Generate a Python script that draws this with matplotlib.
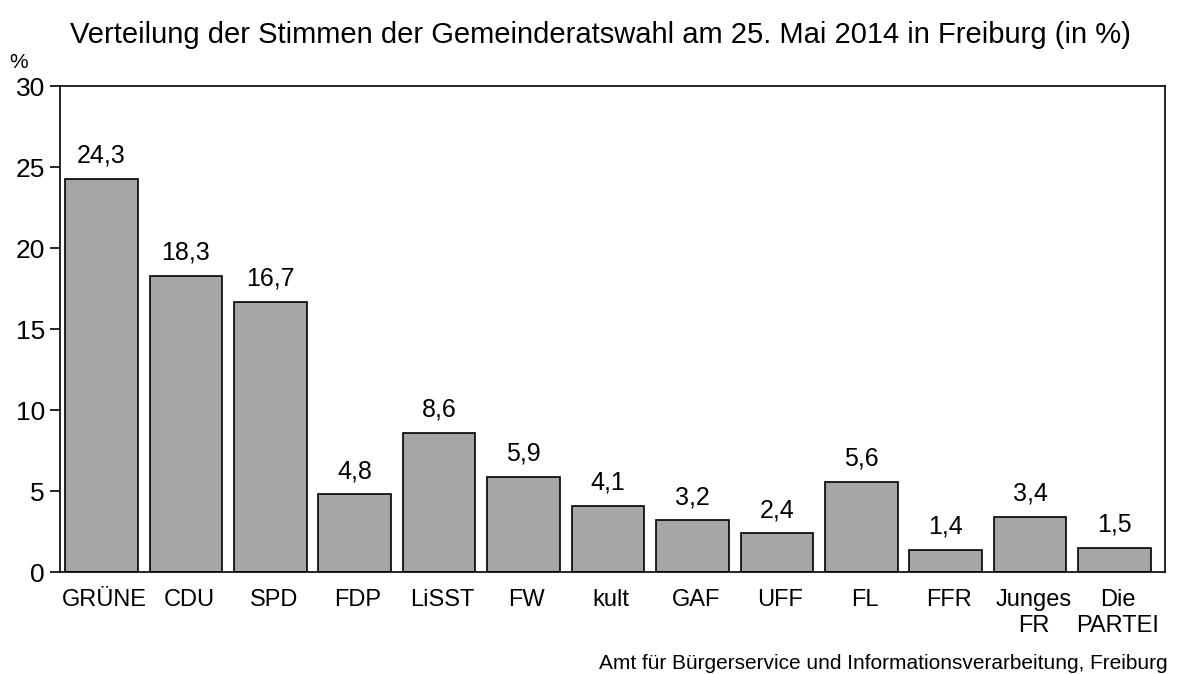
import matplotlib
matplotlib.use('Agg')
import matplotlib.pyplot as plt
import numpy as np

plt.rcParams['font.family'] = ['Liberation Sans', 'DejaVu Sans']

parteien = ['GRÜNE', 'CDU', 'SPD', 'FDP', 'LiSST', 'FW', 'kult', 'GAF', 'UFF',
            'FL', 'FFR', 'Junges\nFR', 'Die\nPARTEI']
anteile = [24.3, 18.3, 16.7, 4.8, 8.6, 5.9, 4.1, 3.2, 2.4, 5.6, 1.4, 3.4, 1.5]
yticks = [0, 5, 10, 15, 20, 25, 30]

fig = plt.figure(figsize=(11.89, 6.74), dpi=100)
ax = fig.add_axes([0.0505, 0.151, 0.9295, 0.721])

x = np.arange(len(parteien))
ax.bar(x, anteile, width=0.86, color='#a6a6a6', edgecolor='black', linewidth=1.2)
for xi, v in zip(x, anteile):
    ax.text(xi, v + 0.7, f'{v:.1f}'.replace('.', ','), ha='center', va='bottom', fontsize=18)

ax.set_xlim(-0.49, 12.6)
ax.set_ylim(0, 30)
ax.set_yticks(yticks)
ax.set_yticklabels([str(t) for t in yticks], fontsize=19)
ax.tick_params(axis='y', length=7, width=1.2, direction='out', pad=4)
ax.set_xticks(x + 0.04)
ax.set_xticklabels(parteien, fontsize=17, linespacing=1.22, va='top')
ax.tick_params(axis='x', length=0, pad=12)
for s in ax.spines.values():
    s.set_linewidth(1.2)

fig.text(0.505, 0.948, 'Verteilung der Stimmen der Gemeinderatswahl am 25. Mai 2014 in Freiburg (in %)',
         ha='center', va='center', fontsize=21)
fig.text(0.008, 0.908, '%', ha='left', va='center', fontsize=15)
fig.text(0.982, 0.016, 'Amt für Bürgerservice und Informationsverarbeitung, Freiburg',
         ha='right', va='center', fontsize=15)

fig.savefig('out.png', dpi=100)
